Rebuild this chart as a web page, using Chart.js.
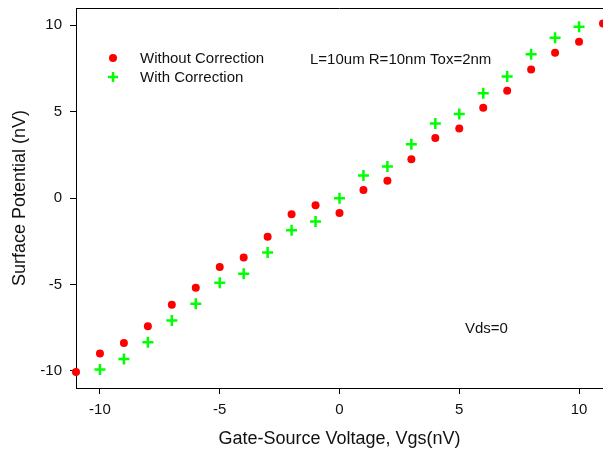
<!DOCTYPE html>
<html>
<head>
<meta charset="utf-8">
<script src="https://cdn.jsdelivr.net/npm/chart.js@4/dist/chart.umd.min.js"></script>
<style>
  body { margin: 0; background: #fff; }
  #wrap { width: 603px; height: 455px; }
</style>
</head>
<body>
<div id="wrap"><canvas id="surf_chart" width="603" height="455"></canvas></div>
<script>
/* DATA */
let vgs_without = [-11,-10,-9,-8,-7,-6,-5,-4,-3,-2,-1,0,1,2,3,4,5,6,7,8,9,10,11];
let sp_without  = [-10.07,-9.0,-8.4,-7.42,-6.18,-5.19,-3.99,-3.44,-2.24,-0.94,-0.42,-0.87,0.46,1.0,2.25,3.47,4.02,5.23,6.21,7.44,8.41,9.05,10.1];

let vgs_with = [-10,-9,-8,-7,-6,-5,-4,-3,-2,-1,0,1,2,3,4,5,6,7,8,9,10];
let sp_with  = [-9.93,-9.32,-8.35,-7.09,-6.12,-4.91,-4.38,-3.16,-1.86,-1.36,-0.02,1.3,1.83,3.11,4.32,4.86,6.07,7.03,8.32,9.28,9.91];

let x_ticks = [-10,-5,0,5,10];
let y_ticks = [-10,-5,0,5,10];

let label_without = "Without Correction";
let label_with = "With Correction";
let note_params = "L=10um R=10nm Tox=2nm";
let note_vds = "Vds=0";

const FONT = "'Liberation Sans', Arial, sans-serif";
const TXT = "#111";
const RED = "#ff0000";
const GREEN = "#00ff00";

function to_points(xs, ys){
  return xs.map((x,i) => ({x:x, y:ys[i]}));
}

// frame on top + legend + notes
const decor_plugin = {
  id: "decor",
  afterDraw(chart){
    const ctx = chart.ctx;
    const a = chart.chartArea;
    ctx.save();
    ctx.strokeStyle = "#000";
    ctx.lineWidth = 1;
    ctx.beginPath();
    ctx.moveTo(a.left, a.top + 0.5);
    ctx.lineTo(a.right, a.top + 0.5);
    ctx.stroke();

    // legend
    ctx.fillStyle = RED;
    ctx.beginPath();
    ctx.arc(113, 58, 4, 0, Math.PI*2);
    ctx.fill();
    ctx.strokeStyle = GREEN;
    ctx.lineWidth = 2.5;
    ctx.beginPath();
    ctx.moveTo(108, 77); ctx.lineTo(118, 77);
    ctx.moveTo(113, 72); ctx.lineTo(113, 82);
    ctx.stroke();

    ctx.fillStyle = TXT;
    ctx.font = "15px " + FONT;
    ctx.textBaseline = "middle";
    ctx.textAlign = "left";
    ctx.fillText(label_without, 140, 59);
    ctx.fillText(label_with, 140, 78);
    ctx.fillText(note_params, 310, 60);
    ctx.fillText(note_vds, 465, 329);
    ctx.restore();
  }
};

const chart_dom = document.getElementById("surf_chart").getContext("2d");

const surfChart = new Chart(chart_dom, {
  type: "scatter",
  data: {
    datasets: [
      { // without correction
        label: label_without,
        data: to_points(vgs_without, sp_without),
        pointStyle: "circle",
        pointRadius: 4,
        pointBackgroundColor: RED,
        pointBorderColor: RED,
        pointBorderWidth: 0,
        clip: false
      },
      { // with correction
        label: label_with,
        data: to_points(vgs_with, sp_with),
        pointStyle: "cross",
        pointRadius: 5.5,
        pointBorderColor: GREEN,
        pointBorderWidth: 2.5,
        clip: false
      }
    ]
  },
  options: {
    responsive: false,
    animation: false,
    layout: { autoPadding: false, padding: { top: 8, right: 0, left: 0, bottom: 0 } },
    plugins: { legend: { display: false }, tooltip: { enabled: false } },
    scales: {
      x: {
        type: "linear",
        min: -11, max: 11,
        afterBuildTicks: s => { s.ticks = x_ticks.map(v => ({value: v})); },
        afterFit: s => { s.height = 67; s.paddingLeft = 0; s.paddingRight = 0; },
        grid: { drawOnChartArea: false, drawTicks: true, tickLength: 6, color: "#000" },
        border: { display: true, color: "#000", width: 1 },
        ticks: { color: TXT, font: { family: FONT, size: 15 }, padding: 7, maxRotation: 0 },
        title: {
          display: true,
          text: "Gate-Source Voltage, Vgs(nV)",
          color: TXT,
          font: { family: FONT, size: 18 },
          padding: { top: 0, bottom: 5 }
        }
      },
      y: {
        type: "linear",
        min: -11, max: 11,
        afterBuildTicks: s => { s.ticks = y_ticks.map(v => ({value: v})); },
        afterFit: s => { s.width = 76; s.paddingTop = 0; s.paddingBottom = 0; },
        grid: { drawOnChartArea: false, drawTicks: true, tickLength: 6, color: "#000" },
        border: { display: true, color: "#000", width: 1 },
        ticks: { color: TXT, font: { family: FONT, size: 15 }, padding: 8 },
        title: {
          display: true,
          text: "Surface Potential (nV)",
          color: TXT,
          font: { family: FONT, size: 18 },
          padding: { top: 9, bottom: 0 }
        }
      }
    }
  },
  plugins: [decor_plugin]
});
</script>
</body>
</html>
